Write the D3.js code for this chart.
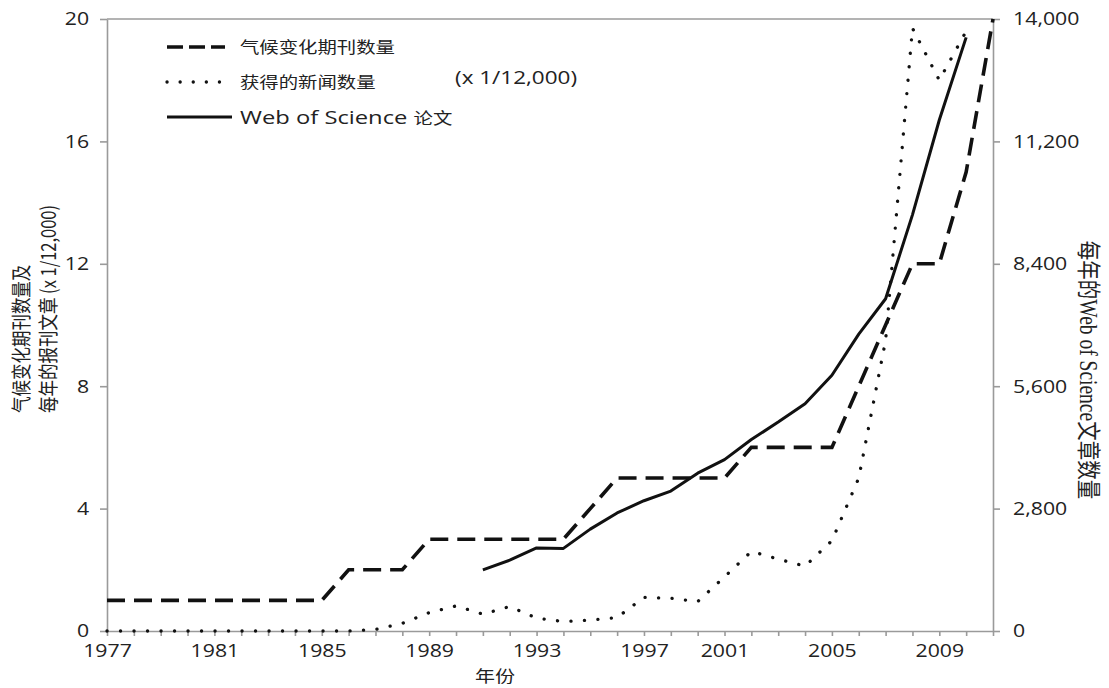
<!DOCTYPE html>
<html>
<head>
<meta charset="utf-8">
<script src="https://cdn.jsdelivr.net/npm/d3@7"></script>
<style>
  html, body { margin: 0; padding: 0; background: #fff; }
  svg { display: block; }
  text { fill: #222; }
</style>
</head>
<body>
<svg></svg>
<script>
(function (d3) {
    'use strict';

    // x axis: one tick per slot, labelled every few slots (the printed axis skips a year)
    const slots = d3.range(34);
    const tickSlots = [0, 4, 8, 12, 16, 20, 23, 27, 31];
    const tickLabels = ['1977', '1981', '1985', '1989', '1993', '1997', '2001', '2005', '2009'];

    // left axis units
    const journals = [1, 1, 1, 1, 1, 1, 1, 1, 1, 2, 2, 2, 3, 3, 3, 3, 3, 3, 4, 5,
                      5, 5, 5, 5, 6, 6, 6, 6, 8, 10, 12, 12, 15, 20];
    // left axis units (x 1/12,000)
    const news = [0, 0, 0, 0, 0, 0, 0, 0, 0, 0, 0.05, 0.25, 0.6, 0.82, 0.55, 0.8, 0.42, 0.31, 0.36, 0.44,
                  1.1, 1.07, 0.96, 1.77, 2.6, 2.35, 2.12, 2.95, 5.0, 9.5, 19.7, 18.0, 19.6];
    // right axis units, starts at slot 14
    const wosStart = 14;
    const wos = [1400, 1620, 1900, 1890, 2330, 2700, 2980, 3200, 3610, 3920,
                 4380, 4780, 5200, 5850, 6790, 7600, 9520, 11690, 13580];

    const leftTicks = [0, 4, 8, 12, 16, 20];
    const rightTicks = [0, 2800, 5600, 8400, 11200, 14000];

    const width = 1109;
    const height = 688;
    const margin = { top: 19, right: 116, bottom: 57, left: 107 };
    const SX = 1.25;      // the picture is stretched sideways, text too
    const SX_TICK = 1.15;

    const svg = d3.select('svg')
        .attr('width', width)
        .attr('height', height);

    const x = d3.scaleLinear().domain([0, 33]).range([margin.left, width - margin.right]);
    const yL = d3.scaleLinear().domain([0, 20]).range([height - margin.bottom, margin.top]);
    const yR = d3.scaleLinear().domain([0, 14000]).range([height - margin.bottom, margin.top]);

    const axisColor = '#9a9a9a';
    const tickFont = '"Open Sans", "Liberation Sans", sans-serif';
    const cjkFont = '"Noto Sans CJK SC", "Noto Sans", sans-serif';

    function styleAxis(g) {
        g.selectAll('path, line').attr('stroke', axisColor).attr('stroke-width', 1.6);
        g.selectAll('text')
            .attr('font-family', tickFont)
            .attr('font-size', 18.5)
            .attr('fill', '#2a2a2a')
            .attr('transform', `scale(${SX_TICK},1)`);
    }

    // top frame line
    svg.append('line')
        .attr('x1', x(0)).attr('x2', x(33))
        .attr('y1', yL(20)).attr('y2', yL(20))
        .attr('stroke', axisColor).attr('stroke-width', 1.6);

    svg.append('g')
        .attr('transform', `translate(0,${height - margin.bottom})`)
        .call(d3.axisBottom(x)
            .tickValues(slots)
            .tickSize(5)
            .tickSizeOuter(0)
            .tickPadding(8)
            .tickFormat(d => {
                const k = tickSlots.indexOf(d);
                return k >= 0 ? tickLabels[k] : '';
            }))
        .call(styleAxis);

    svg.append('g')
        .attr('transform', `translate(${margin.left},0)`)
        .call(d3.axisLeft(yL).tickValues(leftTicks).tickSize(7).tickSizeOuter(0).tickPadding(8.5))
        .call(styleAxis);

    svg.append('g')
        .attr('transform', `translate(${width - margin.right},0)`)
        .call(d3.axisRight(yR).tickValues(rightTicks).tickSize(7).tickSizeOuter(0).tickPadding(10.5)
            .tickFormat(d3.format(',')))
        .call(styleAxis);

    // series
    const lineL = d3.line().x((d, i) => x(i)).y(d => yL(d));
    const lineR = d3.line().x((d, i) => x(i + wosStart)).y(d => yR(d));

    svg.append('path')
        .datum(news)
        .attr('d', lineL)
        .attr('fill', 'none')
        .attr('stroke', '#111')
        .attr('stroke-width', 3.3)
        .attr('stroke-linecap', 'round')
        .attr('stroke-dasharray', '0.1 13.4');

    svg.append('path')
        .datum(wos)
        .attr('d', lineR)
        .attr('fill', 'none')
        .attr('stroke', '#111')
        .attr('stroke-width', 3)
        .attr('stroke-linejoin', 'round');

    svg.append('path')
        .datum(journals)
        .attr('d', lineL)
        .attr('fill', 'none')
        .attr('stroke', '#111')
        .attr('stroke-width', 3.6)
        .attr('stroke-dasharray', '18 9');

    // legend
    const legend = svg.append('g');
    const legendRows = [
        { label: '气候变化期刊数量', dash: '16 6', w: 3.6, y: 47, x2: 225 },
        { label: '获得的新闻数量', dash: '0.1 13', w: 3.3, y: 82, x2: 222 },
        { label: 'Web of Science 论文', dash: null, w: 3, y: 117, x2: 232 }
    ];
    legendRows.forEach((r, i) => {
        legend.append('line')
            .attr('x1', 167).attr('x2', r.x2)
            .attr('y1', r.y).attr('y2', r.y)
            .attr('stroke', '#111')
            .attr('stroke-width', r.w)
            .attr('stroke-linecap', r.dash === '0.1 13' ? 'round' : 'butt')
            .attr('stroke-dasharray', r.dash);
        const t = legend.append('text')
            .attr('transform', `translate(240,${r.y}) scale(${SX},1)`)
            .attr('dy', '0.36em')
            .attr('font-family', i === 2 ? tickFont : cjkFont)
            .attr('font-size', i === 2 ? 19 : 15.5);
        if (i === 2) {
            t.append('tspan').text('Web of Science ');
            t.append('tspan').attr('font-family', cjkFont).attr('font-size', 15.5).text('论文');
        } else {
            t.text(r.label);
        }
    });
    legend.append('text')
        .attr('transform', `translate(455,78) scale(${SX},1)`)
        .attr('dy', '0.36em')
        .attr('font-family', tickFont)
        .attr('font-size', 18)
        .text('(x 1/12,000)');

    // axis titles
    svg.append('text')
        .attr('transform', `translate(495,676) scale(${SX},1)`)
        .attr('text-anchor', 'middle')
        .attr('dy', '0.36em')
        .attr('font-family', cjkFont)
        .attr('font-size', 16)
        .text('年份');

    const leftTitle = ['气候变化期刊数量及', '每年的报刊文章 (x 1/12,000)'];
    leftTitle.forEach((s, i) => {
        svg.append('text')
            .attr('transform', `translate(${22 + i * 27},413) scale(${SX},1) rotate(-90)`)
            .attr('dy', '0.36em')
            .attr('font-family', cjkFont)
            .attr('font-size', 16.5)
            .text(s);
    });

    const rightTitle = svg.append('text')
        .attr('transform', `translate(1089,370) scale(${SX},1) rotate(90)`)
        .attr('text-anchor', 'middle')
        .attr('dy', '0.36em')
        .attr('font-family', '"Liberation Serif", "Noto Sans CJK SC", serif')
        .attr('font-size', 19.5);
    rightTitle.append('tspan').attr('font-family', cjkFont).text('每年的');
    rightTitle.append('tspan').text('Web of Science');
    rightTitle.append('tspan').attr('font-family', cjkFont).text('文章数量');
}(d3));
</script>
</body>
</html>
